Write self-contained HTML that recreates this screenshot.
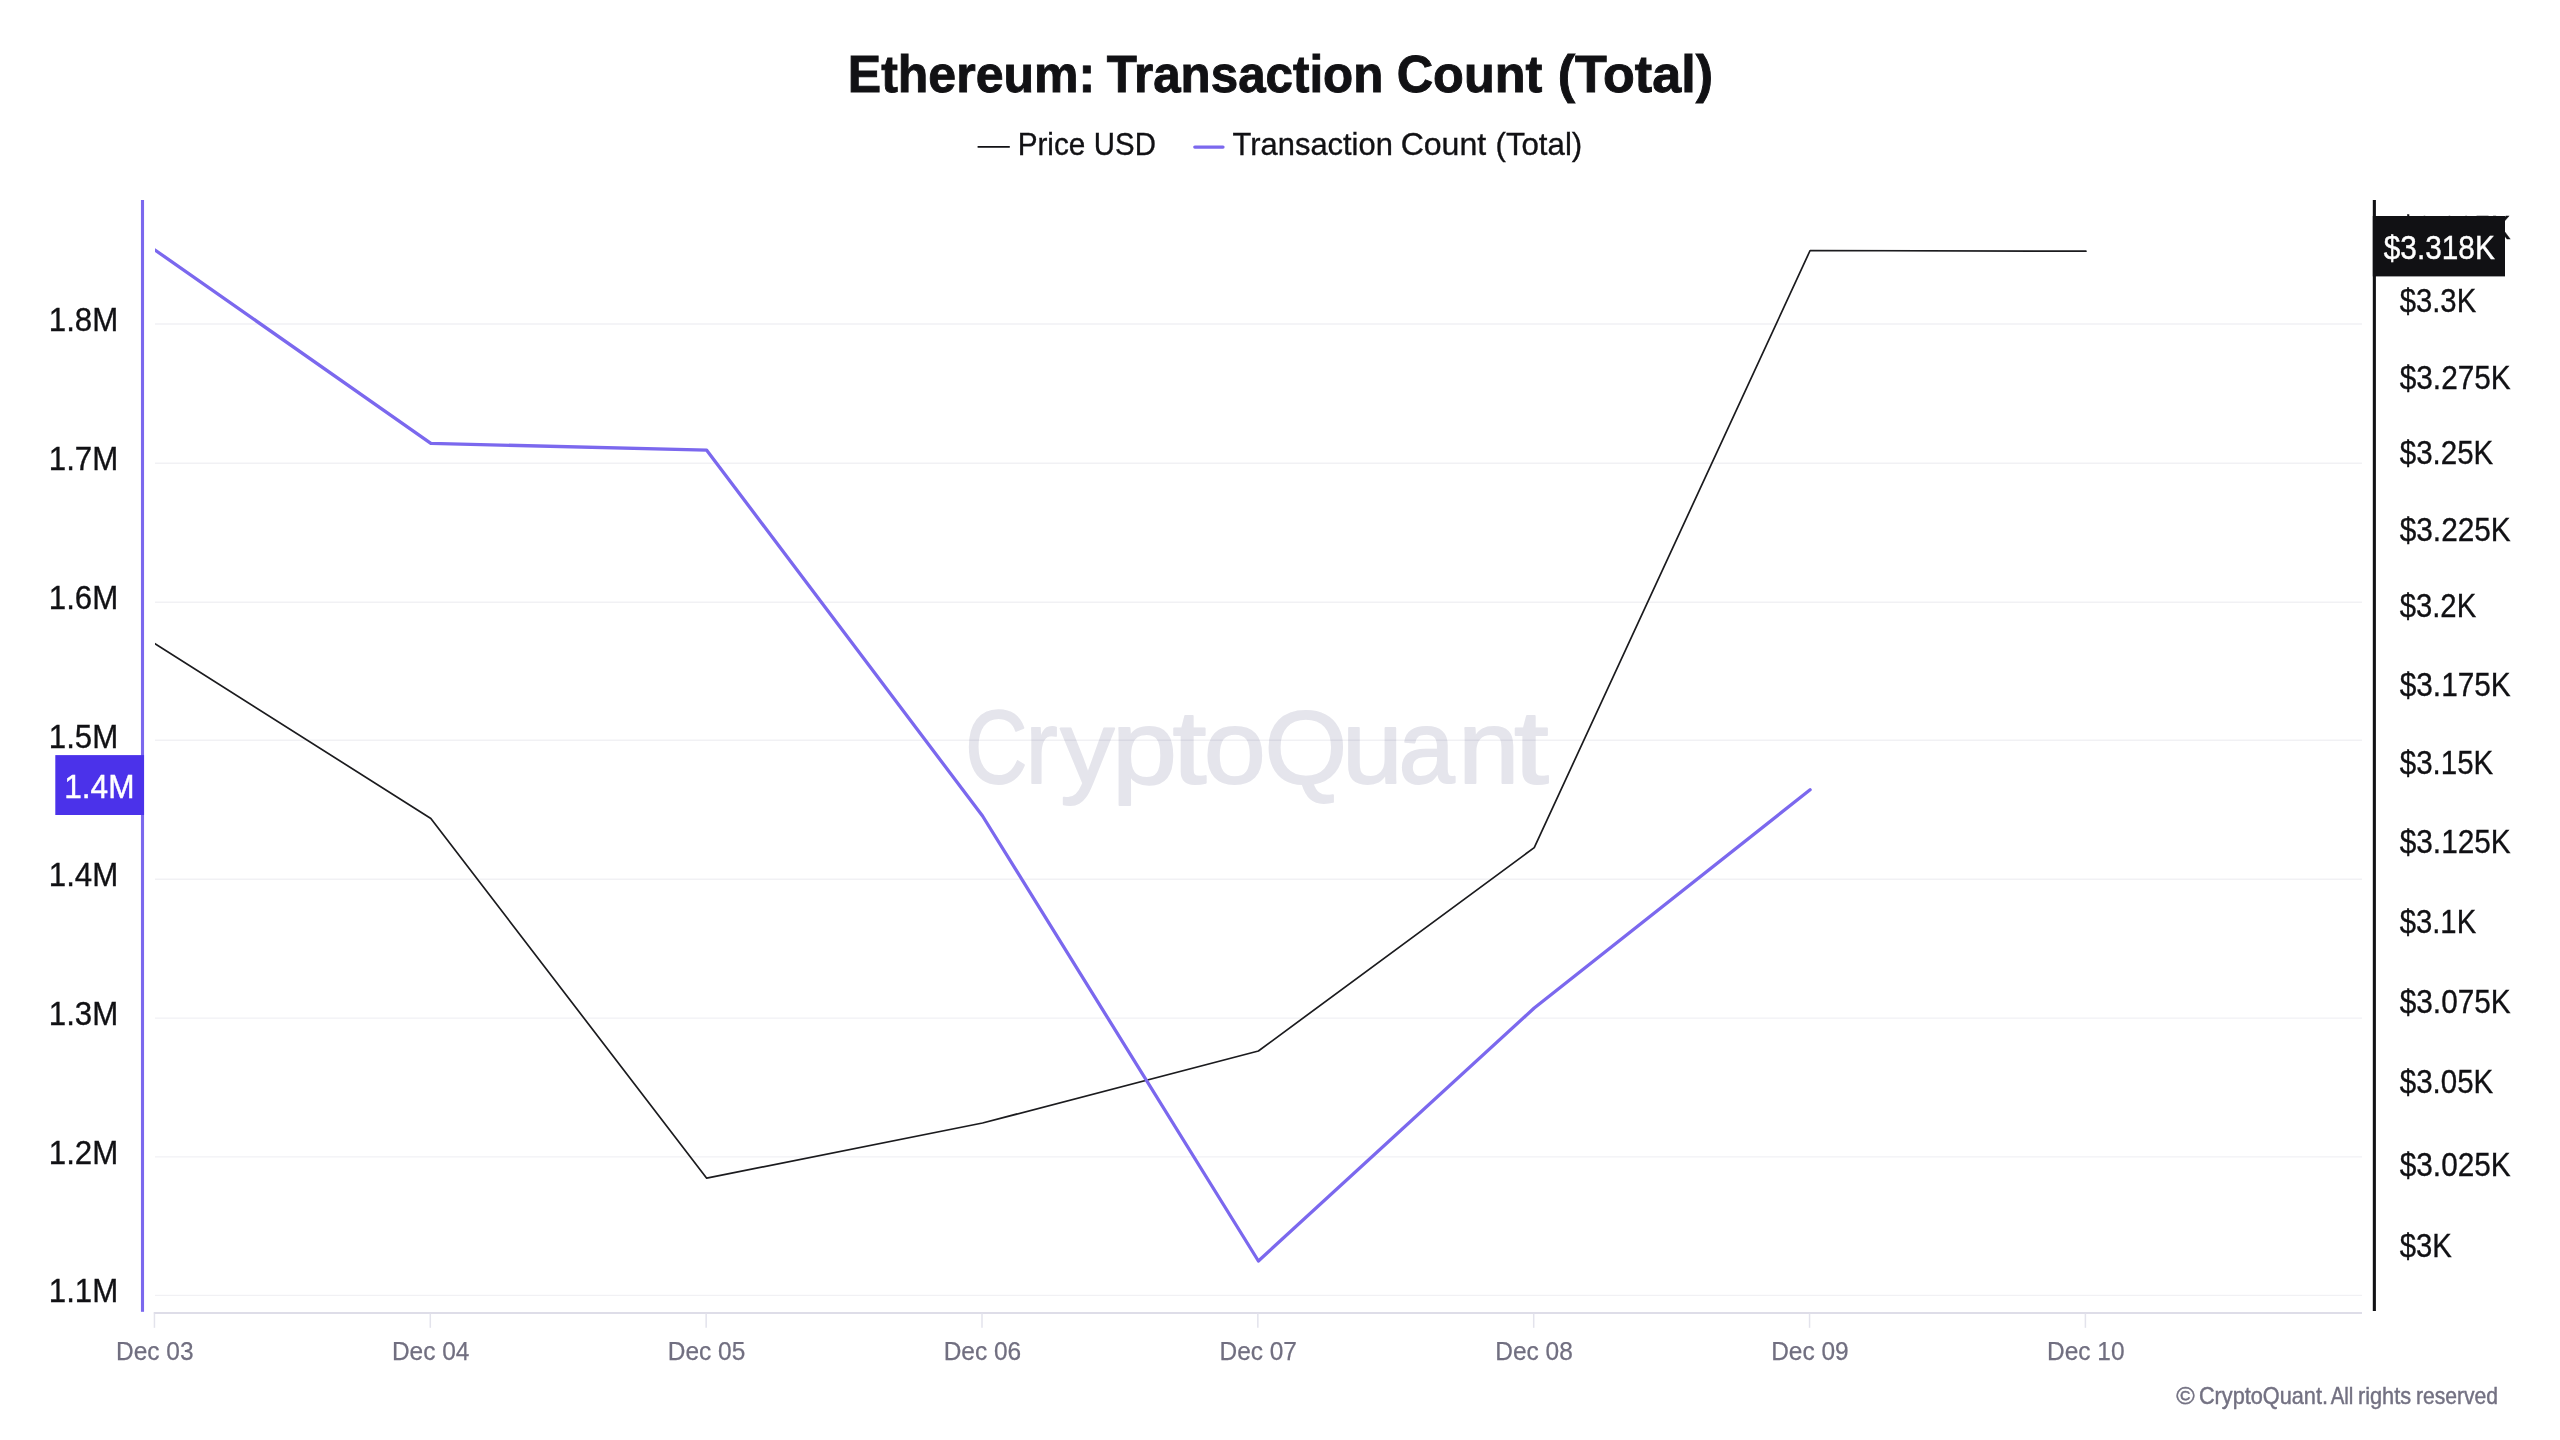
<!DOCTYPE html>
<html lang="en">
<head>
<meta charset="utf-8">
<title>Ethereum: Transaction Count (Total)</title>
<style>
  html, body { margin: 0; padding: 0; background: #ffffff; }
  body { width: 2560px; height: 1440px; overflow: hidden; }
  svg { display: block; will-change: transform; }
  text { font-family: "Liberation Sans", sans-serif; }
  .title { font-weight: bold; font-size: 51.7px; fill: #111114; stroke: #111114; stroke-width: 0.9px; }
  .legend { font-size: 32px; fill: #111114; stroke: #111114; stroke-width: 0.35px; }
  .ylab { font-size: 33.8px; fill: #111114; stroke: #111114; stroke-width: 0.35px; }
  .xlab { font-size: 25.8px; fill: #716f80; stroke: #716f80; stroke-width: 0.25px; }
  .copy { font-size: 24px; fill: #737182; stroke: #737182; stroke-width: 0.45px; }
  .wm { font-size: 103.5px; fill: #e5e5ec; stroke: #e5e5ec; stroke-width: 1.8px; stroke-linejoin: round; }
  .badge { font-size: 33.8px; fill: #ffffff; stroke: #ffffff; stroke-width: 0.45px; }
</style>
</head>
<body>
<svg width="2560" height="1440" viewBox="0 0 2560 1440">
  <defs>
    <filter id="wmblur" x="-5%" y="-20%" width="110%" height="140%"><feGaussianBlur stdDeviation="0.7"/></filter>
    <clipPath id="plot"><rect x="155" y="195" width="2207" height="1118"/></clipPath>
  </defs>
  <rect x="0" y="0" width="2560" height="1440" fill="#ffffff"/>

  <!-- title -->
  <text class="title" y="91.5"><tspan x="847.75" textLength="247.5" lengthAdjust="spacingAndGlyphs">Ethereum:</tspan> <tspan x="1106.64" textLength="276.68" lengthAdjust="spacingAndGlyphs">Transaction</tspan> <tspan x="1396.69" textLength="145.59" lengthAdjust="spacingAndGlyphs">Count</tspan> <tspan x="1557.78" textLength="155.24" lengthAdjust="spacingAndGlyphs">(Total)</tspan></text>

  <!-- legend -->
  <line x1="977.6" y1="146.9" x2="1009.8" y2="146.9" stroke="#111114" stroke-width="1.7"/>
  <text class="legend" y="155.0"><tspan x="1017.65" textLength="67.72" lengthAdjust="spacingAndGlyphs">Price</tspan> <tspan x="1093.83" textLength="62.01" lengthAdjust="spacingAndGlyphs">USD</tspan></text>
  <line x1="1194.8" y1="147.1" x2="1223" y2="147.1" stroke="#7b68ee" stroke-width="3.3" stroke-linecap="round"/>
  <text class="legend" y="155.0"><tspan x="1232.6" textLength="160.23" lengthAdjust="spacingAndGlyphs">Transaction</tspan> <tspan x="1400.64" textLength="85.55" lengthAdjust="spacingAndGlyphs">Count</tspan> <tspan x="1495.53" textLength="86.7" lengthAdjust="spacingAndGlyphs">(Total)</tspan></text>

  <!-- watermark -->
  <g filter="url(#wmblur)">
    <text class="wm" y="782.6"><tspan x="965.26" textLength="62.12" lengthAdjust="spacingAndGlyphs">C</tspan><tspan x="1025.47" textLength="32.15" lengthAdjust="spacingAndGlyphs">r</tspan><tspan x="1060.22" textLength="54.18" lengthAdjust="spacingAndGlyphs">y</tspan><tspan x="1111.77" textLength="65.38" lengthAdjust="spacingAndGlyphs">p</tspan><tspan x="1172.55" textLength="33.96" lengthAdjust="spacingAndGlyphs">t</tspan><tspan x="1203.68" textLength="62.12" lengthAdjust="spacingAndGlyphs">o</tspan><tspan x="1264.6" textLength="82.74" lengthAdjust="spacingAndGlyphs">Q</tspan><tspan x="1341.9" textLength="60.78" lengthAdjust="spacingAndGlyphs">u</tspan><tspan x="1398.48" textLength="56.23" lengthAdjust="spacingAndGlyphs">a</tspan><tspan x="1457.91" textLength="61.49" lengthAdjust="spacingAndGlyphs">n</tspan><tspan x="1514.0" textLength="34.77" lengthAdjust="spacingAndGlyphs">t</tspan></text>
  </g>

  <!-- horizontal grid lines -->
  <g stroke="#14143c" stroke-opacity="0.058" stroke-width="1.4">
    <line x1="155" y1="324.0" x2="2362" y2="324.0"/>
    <line x1="155" y1="463.3" x2="2362" y2="463.3"/>
    <line x1="155" y1="602.3" x2="2362" y2="602.3"/>
    <line x1="155" y1="740.3" x2="2362" y2="740.3"/>
    <line x1="155" y1="879.2" x2="2362" y2="879.2"/>
    <line x1="155" y1="1018.1" x2="2362" y2="1018.1"/>
    <line x1="155" y1="1156.9" x2="2362" y2="1156.9"/>
    <line x1="155" y1="1295.35" x2="2362" y2="1295.35"/>
  </g>

  <!-- bottom axis -->
  <line x1="153.7" y1="1313" x2="2362" y2="1313" stroke="#d3d2e0" stroke-width="1.5"/>
  <g stroke="#e3e3ec" stroke-width="1.5">
    <line x1="154.45" y1="1313.6" x2="154.45" y2="1327.8"/>
    <line x1="430.3" y1="1313.6" x2="430.3" y2="1327.8"/>
    <line x1="706.15" y1="1313.6" x2="706.15" y2="1327.8"/>
    <line x1="982.0" y1="1313.6" x2="982.0" y2="1327.8"/>
    <line x1="1257.85" y1="1313.6" x2="1257.85" y2="1327.8"/>
    <line x1="1533.7" y1="1313.6" x2="1533.7" y2="1327.8"/>
    <line x1="1809.55" y1="1313.6" x2="1809.55" y2="1327.8"/>
    <line x1="2085.4" y1="1313.6" x2="2085.4" y2="1327.8"/>
  </g>

  <!-- x labels -->
  <g class="xlab" text-anchor="middle">
    <text x="154.83" y="1360.1" textLength="77.5" lengthAdjust="spacingAndGlyphs">Dec 03</text>
    <text x="430.68" y="1360.1" textLength="77.5" lengthAdjust="spacingAndGlyphs">Dec 04</text>
    <text x="706.53" y="1360.1" textLength="77.5" lengthAdjust="spacingAndGlyphs">Dec 05</text>
    <text x="982.38" y="1360.1" textLength="77.5" lengthAdjust="spacingAndGlyphs">Dec 06</text>
    <text x="1258.23" y="1360.1" textLength="77.5" lengthAdjust="spacingAndGlyphs">Dec 07</text>
    <text x="1534.08" y="1360.1" textLength="77.5" lengthAdjust="spacingAndGlyphs">Dec 08</text>
    <text x="1809.93" y="1360.1" textLength="77.5" lengthAdjust="spacingAndGlyphs">Dec 09</text>
    <text x="2085.78" y="1360.1" textLength="77.5" lengthAdjust="spacingAndGlyphs">Dec 10</text>
  </g>

  <!-- left y labels -->
  <g class="ylab">
    <text x="48.8" y="331.3" textLength="69.4" lengthAdjust="spacingAndGlyphs">1.8M</text>
    <text x="48.8" y="470.0" textLength="69.4" lengthAdjust="spacingAndGlyphs">1.7M</text>
    <text x="48.8" y="608.8" textLength="69.4" lengthAdjust="spacingAndGlyphs">1.6M</text>
    <text x="48.8" y="747.5" textLength="69.4" lengthAdjust="spacingAndGlyphs">1.5M</text>
    <text x="48.8" y="886.2" textLength="69.4" lengthAdjust="spacingAndGlyphs">1.4M</text>
    <text x="48.8" y="1025.0" textLength="69.4" lengthAdjust="spacingAndGlyphs">1.3M</text>
    <text x="48.8" y="1163.7" textLength="69.4" lengthAdjust="spacingAndGlyphs">1.2M</text>
    <text x="48.8" y="1302.4" textLength="69.4" lengthAdjust="spacingAndGlyphs">1.1M</text>
  </g>

  <!-- right y labels -->
  <g class="ylab">
    <text x="2399.72" y="238.7" textLength="111.03" lengthAdjust="spacingAndGlyphs">$3.325K</text>
    <text x="2399.72" y="312.1" textLength="76.42" lengthAdjust="spacingAndGlyphs">$3.3K</text>
    <text x="2399.72" y="389.0" textLength="111.03" lengthAdjust="spacingAndGlyphs">$3.275K</text>
    <text x="2399.72" y="463.8" textLength="93.57" lengthAdjust="spacingAndGlyphs">$3.25K</text>
    <text x="2399.72" y="540.8" textLength="111.03" lengthAdjust="spacingAndGlyphs">$3.225K</text>
    <text x="2399.72" y="617.4" textLength="76.42" lengthAdjust="spacingAndGlyphs">$3.2K</text>
    <text x="2399.72" y="695.7" textLength="111.03" lengthAdjust="spacingAndGlyphs">$3.175K</text>
    <text x="2399.72" y="774.0" textLength="93.57" lengthAdjust="spacingAndGlyphs">$3.15K</text>
    <text x="2399.72" y="852.8" textLength="111.03" lengthAdjust="spacingAndGlyphs">$3.125K</text>
    <text x="2399.72" y="933.0" textLength="76.42" lengthAdjust="spacingAndGlyphs">$3.1K</text>
    <text x="2399.72" y="1012.9" textLength="111.03" lengthAdjust="spacingAndGlyphs">$3.075K</text>
    <text x="2399.72" y="1093.4" textLength="93.57" lengthAdjust="spacingAndGlyphs">$3.05K</text>
    <text x="2399.72" y="1175.9" textLength="111.03" lengthAdjust="spacingAndGlyphs">$3.025K</text>
    <text x="2399.72" y="1257.1" textLength="52.07" lengthAdjust="spacingAndGlyphs">$3K</text>
  </g>

  <!-- series -->
  <g clip-path="url(#plot)">
    <polyline fill="none" stroke="#1b1b1e" stroke-width="1.7" stroke-linejoin="round" stroke-linecap="round"
      points="155.0,643.7 430.85,818.5 706.7,1178.2 982.55,1123.0 1258.4,1051.0 1534.25,847.6 1810.1,250.5 2085.95,251.2"/>
    <polyline fill="none" stroke="#7b68ee" stroke-width="3.3" stroke-linejoin="round" stroke-linecap="round"
      points="155.0,250.0 430.85,443.3 706.7,450.2 982.55,816.0 1258.4,1261.0 1534.25,1008.0 1810.1,789.8"/>
  </g>

  <!-- left axis line + badge -->
  <rect x="140.95" y="200" width="3.1" height="1111.8" fill="#7b68ee"/>
  <rect x="55.3" y="755.1" width="88.75" height="59.9" fill="#4b32ea"/>
  <text class="badge" x="64.29" y="797.6" textLength="70.2" lengthAdjust="spacingAndGlyphs">1.4M</text>

  <!-- right axis line + badge -->
  <rect x="2372.8" y="200" width="3.1" height="1111" fill="#111114"/>
  <rect x="2372.8" y="216" width="132.2" height="60.4" fill="#111114"/>
  <text class="badge" x="2383.82" y="259.3" textLength="110.93" lengthAdjust="spacingAndGlyphs">$3.318K</text>

  <!-- copyright -->
  <text class="copy" y="1403.8"><tspan x="2176.17" textLength="18.47" lengthAdjust="spacingAndGlyphs">©</tspan> <tspan x="2198.96" textLength="128.99" lengthAdjust="spacingAndGlyphs">CryptoQuant.</tspan> <tspan x="2330.67" textLength="22.75" lengthAdjust="spacingAndGlyphs">All</tspan> <tspan x="2357.94" textLength="53.17" lengthAdjust="spacingAndGlyphs">rights</tspan> <tspan x="2415.88" textLength="82.05" lengthAdjust="spacingAndGlyphs">reserved</tspan></text>
</svg>
</body>
</html>
